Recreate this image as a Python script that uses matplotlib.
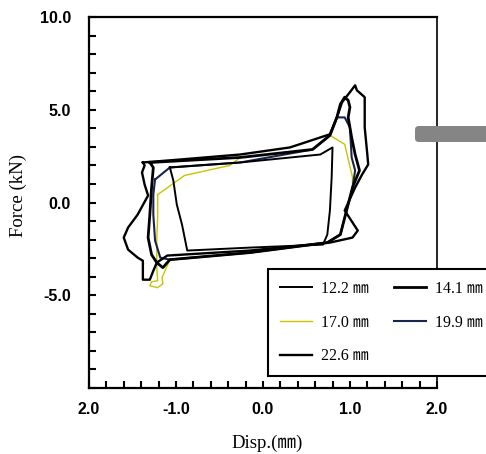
import numpy as np
import matplotlib
matplotlib.use("Agg")
import matplotlib.pyplot as plt
from matplotlib.patches import FancyBboxPatch

# -----------------------------
# DATA
# -----------------------------
labels = ["12.2 ㎜", "14.1 ㎜", "17.0 ㎜", "19.9 ㎜", "22.6 ㎜"]

# 12.2 mm
d1 = [-1.07, -0.26, 0.66, 0.80, 0.79, 0.77, 0.74, 0.69, -0.15, -0.87, -0.93, -0.99, -1.03, -1.07]
f1 = [1.89, 2.16, 2.59, 2.97, 1.35, -0.43, -1.73, -2.27, -2.43, -2.59, -1.19, -0.11, 1.19, 1.89]

# 14.1 mm
d2 = [-1.30, -0.26, 0.57, 0.77, 0.85, 0.89, 0.94, 0.98, 1.00, 0.98, 1.02, 1.06, 1.11, 1.03,
      0.97, 0.89, 0.74, -0.15, -1.07, -1.15, -1.22, -1.28, -1.32, -1.30, -1.28, -1.26, -1.30]
f2 = [2.16, 2.43, 2.86, 3.62, 4.59, 5.30, 5.68, 5.51, 5.14, 4.59, 3.51, 2.59, 1.73, 0.81,
      -0.27, -1.73, -2.16, -2.70, -3.08, -3.51, -3.24, -2.81, -1.89, -0.65, 0.81, 1.89, 2.16]

# 17.0 mm
d3 = [-1.21, -0.90, -0.38, -0.26, 0.57, 0.77, 0.94, 1.03, 1.03, 0.97, 0.89, 0.74, -0.15,
      -1.07, -1.16, -1.15, -1.21, -1.30, -1.28, -1.21, -1.22, -1.22, -1.21, -1.21]
f3 = [0.43, 1.46, 2.00, 2.43, 2.86, 3.62, 3.14, 1.35, 0.81, -0.27, -1.73, -2.16, -2.70,
      -3.08, -4.05, -4.38, -4.59, -4.49, -4.27, -4.22, -3.51, -1.89, -0.81, 0.43]

# 19.9 mm
d4 = [-1.24, -1.07, -0.26, 0.57, 0.77, 0.85, 0.94, 1.00, 1.02, 1.06, 1.03, 0.97, 0.89, 0.74,
      -0.15, -1.07, -1.18, -1.24, -1.26, -1.26, -1.24]
f4 = [1.24, 1.89, 2.16, 2.86, 3.62, 4.59, 4.59, 4.05, 2.43, 1.73, 0.81, -0.27, -1.73, -2.16,
      -2.70, -3.08, -2.97, -2.05, -0.65, 0.43, 1.24]

# 22.6 mm
d5 = [-1.38, -0.95, -0.26, 0.31, 0.66, 0.77, 0.85, 0.91, 1.00, 1.06, 1.08, 1.17, 1.17, 1.20,
      1.21, 1.14, 1.06, 0.94, 1.09, 1.03, 0.77, -0.15, -1.10, -1.22, -1.26, -1.30, -1.38,
      -1.38, -1.44, -1.55, -1.60, -1.55, -1.44, -1.32, -1.36, -1.39, -1.36, -1.38]
f5 = [2.16, 2.32, 2.59, 2.97, 3.51, 3.68, 4.59, 5.41, 5.95, 6.32, 6.05, 5.68, 4.05, 2.59,
      2.05, 1.51, 0.81, -0.43, -1.51, -1.89, -2.16, -2.59, -2.86, -3.24, -3.68, -4.16, -4.16,
      -3.14, -2.97, -2.54, -1.89, -1.35, -0.65, 0.38, 0.97, 1.62, 2.00, 2.16]

xticks = [-2, -1, 0, 1, 2]
xticklabels = ["2.0", "-1.0", "0.0", "1.0", "2.0"]
yticks = [-5, 0, 5, 10]
yticklabels = ["-5.0", "0.0", "5.0", "10.0"]

# -----------------------------
# PLOT
# -----------------------------
serif = ["Liberation Serif", "Noto Sans CJK JP"]

fig = plt.figure(figsize=(4.86, 4.54), dpi=100)
ax = fig.add_axes([0.183, 0.1454, 0.716, 0.817])

l3, = ax.plot(d3, f3, color="#c9c400", lw=1.0, zorder=2)
l4, = ax.plot(d4, f4, color="#18244c", lw=1.5, zorder=2)
l1, = ax.plot(d1, f1, color="black", lw=1.4, zorder=3)
l2, = ax.plot(d2, f2, color="black", lw=2.0, zorder=3)
l5, = ax.plot(d5, f5, color="black", lw=1.7, zorder=3)

ax.set_xlim(-2, 2)
ax.set_ylim(-10, 10)
ax.set_xticks(xticks)
ax.set_xticklabels(xticklabels)
ax.set_yticks(yticks)
ax.set_yticklabels(yticklabels)
ax.set_xticks(np.arange(-2, 2.01, 0.2), minor=True)
ax.set_yticks(np.arange(-10, 10.01, 1.0), minor=True)
ax.tick_params(which="both", direction="in", width=1.5, length=5, top=False, right=False)
ax.tick_params(axis="x", pad=10)
ax.tick_params(axis="y", pad=13)
for lab in ax.get_xticklabels() + ax.get_yticklabels():
    lab.set_fontfamily("Liberation Sans")
    lab.set_fontweight("bold")
    lab.set_fontsize(11.5)
for s in ax.spines.values():
    s.set_linewidth(1.6)
ax.spines["right"].set_linewidth(1.2)

fig.text(0.549, 0.005, "Disp.(㎜)", ha="center", va="bottom", fontsize=13.5, family=serif)
fig.text(0.037, 0.57, "Force (kN)", ha="center", va="center", rotation=90,
         fontsize=13.5, family=serif)

leg = ax.legend([l1, l3, l5, l2, l4],
                [labels[0], labels[2], labels[4], labels[1], labels[3]],
                ncol=2, loc="upper left", bbox_to_anchor=(268 / 486, 1 - 269 / 454),
                bbox_transform=fig.transFigure, borderaxespad=0, fancybox=False,
                framealpha=1, edgecolor="black", prop={"family": serif, "size": 11.5},
                labelspacing=1.1, handlelength=2.0, handletextpad=0.55,
                columnspacing=1.6, borderpad=0.75)
leg.get_frame().set_linewidth(1.5)
leg.set_zorder(10)

# grey marker bar at the right edge
bar = FancyBboxPatch((415 / 486, 1 - 142 / 454), 0.2, 16 / 454,
                     boxstyle="round,pad=0,rounding_size=0.008",
                     transform=fig.transFigure, facecolor="#858585",
                     edgecolor="none", zorder=20)
fig.patches.append(bar)

fig.savefig("out.png", dpi=100)
